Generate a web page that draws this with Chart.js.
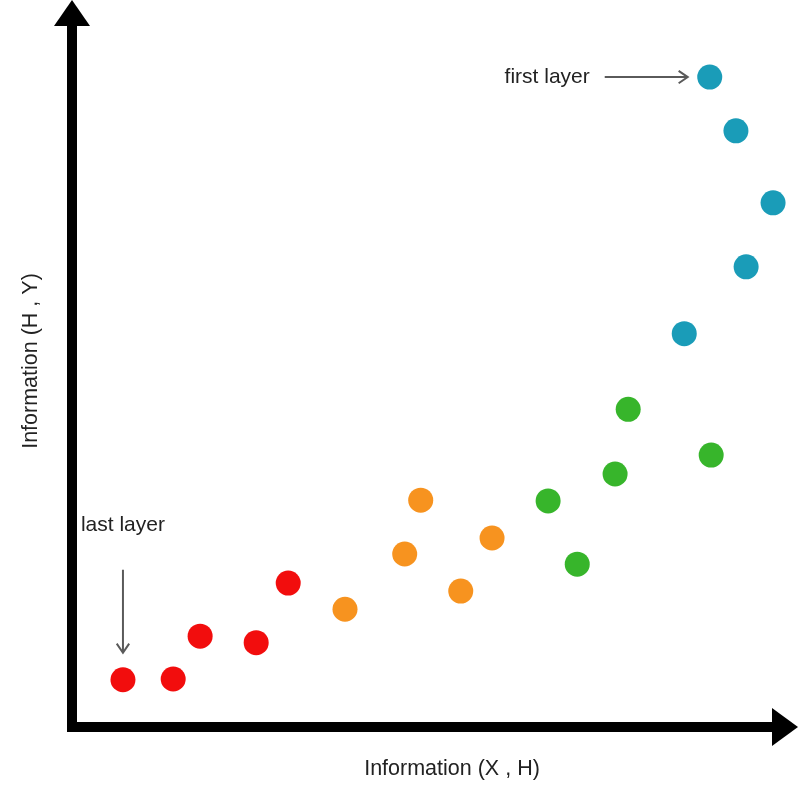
<!DOCTYPE html>
<html>
<head>
<meta charset="utf-8">
<script src="https://cdn.jsdelivr.net/npm/chart.js@4.4.1/dist/chart.umd.min.js"></script>
<style>
  html, body { margin: 0; padding: 0; background: #fff; }
  #wrap { width: 800px; height: 800px; }
</style>
</head>
<body>
<div id="wrap"><canvas id="chart" width="800" height="800"></canvas></div>
<script>
// values, axes go 0..100 (no ticks in the original)
const redX = [7.0, 13.9, 17.6, 25.3, 29.7];
const redY = [6.5, 6.6, 12.5, 11.6, 19.8];
const orangeX = [37.5, 45.7, 47.9, 53.4, 57.7];
const orangeY = [16.2, 23.8, 31.2, 18.7, 26.0];
const greenX = [65.4, 69.4, 74.6, 76.4, 87.8];
const greenY = [31.1, 22.4, 34.8, 43.7, 37.4];
const tealX = [84.1, 87.6, 91.2, 92.6, 96.3];
const tealY = [54.1, 89.4, 82.0, 63.3, 72.1];

const xTitle = "Information (X , H)";
const yTitle = "Information (H , Y)";
const firstLabel = "first layer";
const lastLabel = "last layer";

function toPoints(xs, ys) {
  return xs.map((x, i) => ({ x: x, y: ys[i] }));
}

function makeSet(label, xs, ys, color) {
  return {
    label: label,
    data: toPoints(xs, ys),
    backgroundColor: color,
    borderWidth: 0,
    pointRadius: 12.5,
    pointHoverRadius: 12.5,
  };
}

// arrow with open chevron head (gray annotation arrows)
function grayArrow(ctx, x1, y1, x2, y2) {
  const ang = Math.atan2(y2 - y1, x2 - x1);
  ctx.save();
  ctx.strokeStyle = "#5a5a5a";
  ctx.lineWidth = 2;
  ctx.beginPath();
  ctx.moveTo(x1, y1);
  ctx.lineTo(x2, y2);
  ctx.stroke();
  ctx.beginPath();
  ctx.moveTo(x2 - 11 * Math.cos(ang - 0.6), y2 - 11 * Math.sin(ang - 0.6));
  ctx.lineTo(x2, y2);
  ctx.lineTo(x2 - 11 * Math.cos(ang + 0.6), y2 - 11 * Math.sin(ang + 0.6));
  ctx.stroke();
  ctx.restore();
}

const axesPlugin = {
  id: "axesPlugin",
  afterDatasetsDraw(chart) {
    const ctx = chart.ctx;
    const xs = chart.scales.x;
    const ys = chart.scales.y;
    const x0 = xs.getPixelForValue(0);
    const y0 = ys.getPixelForValue(0);
    const top = chart.chartArea.top;
    const right = chart.chartArea.right;

    ctx.save();
    ctx.fillStyle = "#000";
    ctx.strokeStyle = "#000";
    ctx.lineWidth = 10;
    // y axis
    ctx.beginPath();
    ctx.moveTo(x0, y0 + 5);
    ctx.lineTo(x0, top + 24);
    ctx.stroke();
    ctx.beginPath();
    ctx.moveTo(x0, top);
    ctx.lineTo(x0 - 18, top + 26);
    ctx.lineTo(x0 + 18, top + 26);
    ctx.closePath();
    ctx.fill();
    // x axis
    ctx.beginPath();
    ctx.moveTo(x0 - 5, y0);
    ctx.lineTo(right - 26, y0);
    ctx.stroke();
    ctx.beginPath();
    ctx.moveTo(right - 2, y0);
    ctx.lineTo(right - 28, y0 - 19);
    ctx.lineTo(right - 28, y0 + 19);
    ctx.closePath();
    ctx.fill();

    // axis titles
    ctx.fillStyle = "#222";
    ctx.font = "21.5px 'Liberation Sans', Arial, sans-serif";
    ctx.textAlign = "center";
    ctx.textBaseline = "middle";
    ctx.fillText(xTitle, 452, 769);
    ctx.save();
    ctx.translate(31, 361);
    ctx.rotate(-Math.PI / 2);
    ctx.fillText(yTitle, 0, 0);
    ctx.restore();

    // annotations
    ctx.font = "21px 'Liberation Sans', Arial, sans-serif";
    const fx = xs.getPixelForValue(tealX[1]);
    const fy = ys.getPixelForValue(tealY[1]);
    ctx.textAlign = "right";
    ctx.fillText(firstLabel, fx - 120, fy);
    grayArrow(ctx, fx - 105, fy, fx - 22, fy);

    const lx = xs.getPixelForValue(redX[0]);
    const ly = ys.getPixelForValue(redY[0]);
    ctx.textAlign = "center";
    ctx.fillText(lastLabel, lx, ly - 155);
    grayArrow(ctx, lx, ly - 110, lx, ly - 27);
    ctx.restore();
  },
};

new Chart(document.getElementById("chart"), {
  type: "scatter",
  data: {
    datasets: [
      makeSet("red", redX, redY, "#f20d0d"),
      makeSet("orange", orangeX, orangeY, "#f7931f"),
      makeSet("green", greenX, greenY, "#37b52b"),
      makeSet("teal", tealX, tealY, "#1a9cb8"),
    ],
  },
  options: {
    responsive: false,
    animation: false,
    layout: { autoPadding: false, padding: { left: 72, right: 0, top: 0, bottom: 73 } },
    plugins: { legend: { display: false }, tooltip: { enabled: false } },
    scales: {
      x: { type: "linear", min: 0, max: 100, display: false },
      y: { type: "linear", min: 0, max: 100, display: false },
    },
  },
  plugins: [axesPlugin],
});
</script>
</body>
</html>
